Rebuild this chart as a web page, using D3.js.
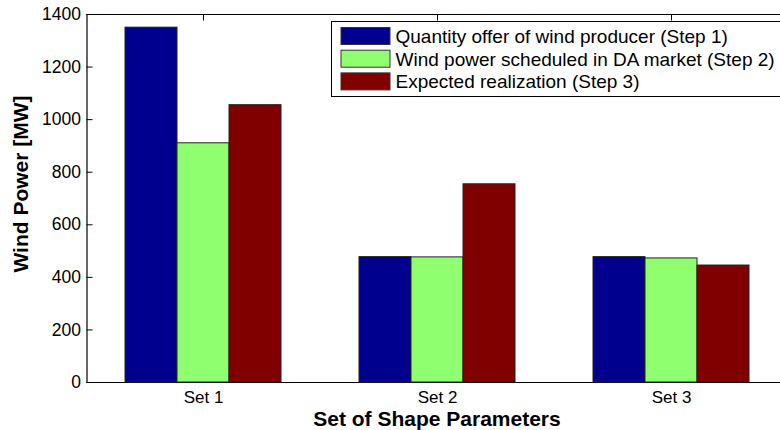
<!DOCTYPE html>
<html>
<head>
<meta charset="utf-8">
<script src="https://cdn.jsdelivr.net/npm/d3@7"></script>
<style>
  html, body { margin: 0; padding: 0; background: #fff; }
  svg { display: block; }
  text { font-family: Arial, "Liberation Sans", sans-serif; fill: #000; }
</style>
</head>
<body>
<svg id="chart" width="780" height="430"></svg>
<script>
const categories = ["Set 1", "Set 2", "Set 3"];
const seriesNames = [
  "Quantity offer of wind producer (Step 1)",
  "Wind power scheduled in DA market (Step 2)",
  "Expected realization (Step 3)"
];
const quantityOffer = [1350, 477, 477];
const scheduledDA = [910, 476, 472];
const expectedRealization = [1055, 754, 445];
const seriesColors = ["#00008f", "#8fff70", "#800000"];
const yTicks = [0, 200, 400, 600, 800, 1000, 1200, 1400];

const seriesValues = [quantityOffer, scheduledDA, expectedRealization];

(function () {
const svg = d3.select("#chart");
svg.append("rect").attr("width", 780).attr("height", 430).attr("fill", "#fff");

const pLeft = 86, pRight = 788, pTop = 14, pBottom = 382;
const x = d3.scaleLinear().domain([0.5, 3.5]).range([pLeft, pRight]);
const y = d3.scaleLinear().domain([0, 1400]).range([pBottom, pTop]);
const barW = 52 / 234; // bar width in group units

// axes box lines (drawn under bars)
const g = svg.append("g");
g.append("line").attr("x1", pLeft).attr("x2", pRight).attr("y1", pTop + 0.5).attr("y2", pTop + 0.5)
  .attr("stroke", "#000").attr("stroke-width", 1.2);
g.append("line").attr("x1", pLeft).attr("x2", pRight).attr("y1", pBottom + 0.5).attr("y2", pBottom + 0.5)
  .attr("stroke", "#000").attr("stroke-width", 1.2);

// left axis
const yAxis = d3.axisLeft(y).tickValues(yTicks).tickFormat(d3.format("d"))
  .tickSizeInner(-6).tickSizeOuter(0).tickPadding(5.5);
const ya = svg.append("g").attr("transform", `translate(${pLeft + 0.5},0)`).call(yAxis);
ya.select(".domain").attr("stroke", "#000").attr("stroke-width", 1.2);
ya.selectAll(".tick line").attr("stroke", "#000");
ya.selectAll(".tick text").attr("font-size", "17.5px").attr("font-family", "Arial, 'Liberation Sans', sans-serif").attr("fill", "#000");

// top ticks
const xTop = d3.axisTop(x).tickValues([1, 2, 3]).tickSizeInner(-6).tickSizeOuter(0).tickFormat("");
const xt = svg.append("g").attr("transform", `translate(0,${pTop + 0.5})`).call(xTop);
xt.select(".domain").remove();
xt.selectAll(".tick line").attr("stroke", "#000");

// bottom axis (labels)
const xBottom = d3.axisBottom(x).tickValues([1, 2, 3]).tickFormat((d) => categories[d - 1])
  .tickSizeInner(-6).tickSizeOuter(0).tickPadding(8);
const xb = svg.append("g").attr("transform", `translate(0,${pBottom + 0.5})`).call(xBottom);
xb.select(".domain").remove();
xb.selectAll(".tick line").attr("stroke", "#000");
xb.selectAll(".tick text").attr("font-size", "17px").attr("font-family", "Arial, 'Liberation Sans', sans-serif").attr("fill", "#000");

// bars
seriesValues.forEach((vals, si) => {
  svg.append("g").selectAll("rect").data(vals).join("rect")
    .attr("x", (d, i) => x(i + 1 + (si - 1) * barW - barW / 2))
    .attr("width", x(barW) - x(0))
    .attr("y", (d) => y(d))
    .attr("height", (d) => y(0) - y(d))
    .attr("fill", seriesColors[si])
    .attr("stroke", "#222")
    .attr("stroke-width", 1);
});

// axis labels
svg.append("text")
  .attr("x", (pLeft + pRight) / 2).attr("y", 425.5)
  .attr("text-anchor", "middle").attr("font-weight", "bold").attr("font-size", "21px")
  .text("Set of Shape Parameters");
svg.append("text")
  .attr("transform", "translate(28,184) rotate(-90)")
  .attr("text-anchor", "middle").attr("font-weight", "bold").attr("font-size", "21px")
  .text("Wind Power [MW]");

// legend
const lg = svg.append("g");
lg.append("rect").attr("x", 331.5).attr("y", 21.5).attr("width", 470).attr("height", 75)
  .attr("fill", "#fff").attr("stroke", "#000").attr("stroke-width", 1);
seriesNames.forEach((name, i) => {
  const ry = 27.5 + i * 22.7;
  lg.append("rect").attr("x", 341).attr("y", ry).attr("width", 49).attr("height", 17)
    .attr("fill", seriesColors[i]).attr("stroke", "#333").attr("stroke-width", 1);
  lg.append("text").attr("x", 395.5).attr("y", ry + 8.5).attr("dy", "0.36em")
    .attr("font-size", "19px").text(name);
});
})();
</script>
</body>
</html>
